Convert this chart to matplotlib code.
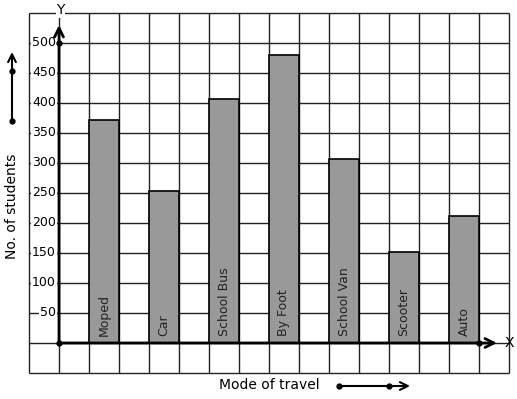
#!/usr/bin/env python3

import matplotlib
matplotlib.use("Agg")
import matplotlib.pyplot as plt

# data
modes = ["Moped", "Car", "School Bus", "By Foot", "School Van", "Scooter", "Auto"]
students = [372, 254, 406, 480, 306, 152, 212]
y_ticks = [50, 100, 150, 200, 250, 300, 350, 400, 450, 500]

W, H = 517, 399
fig = plt.figure(figsize=(W / 100, H / 100), dpi=100)
ax = fig.add_axes([29 / W, 26 / H, 480 / W, 360 / H])
ax.set_xlim(-1, 15)
ax.set_ylim(-50, 550)
ax.axis("off")

grid_kw = dict(color="#222222", lw=1.0, zorder=1, clip_on=False)
ax.vlines(range(-1, 16), -50, 550, **grid_kw)
ax.hlines(range(-50, 551, 50), -1, 15, **grid_kw)

# bars: one cell wide, every other cell
xs = [1.5 + 2 * i for i in range(len(modes))]
ax.bar(xs, students, width=1.0, color="#999999", edgecolor="black", lw=1.2, zorder=2)
for x, m in zip(xs, modes):
    ax.text(x, 12, m, rotation=90, ha="center", va="bottom", fontsize=9, color="#222222", zorder=3)

# y tick labels sitting on the grid lines
for v in y_ticks:
    ax.text(-0.1, v, str(v), ha="right", va="center", fontsize=9, zorder=3,
            bbox=dict(facecolor="white", edgecolor="none", pad=0.5))

# axes with arrow heads
arrow = dict(arrowstyle="->", lw=2, color="black", mutation_scale=16, shrinkA=0, shrinkB=0)
ax.annotate("", xy=(0, 530), xytext=(0, 0), arrowprops=arrow, zorder=4, annotation_clip=False)
ax.annotate("", xy=(14.6, 0), xytext=(0, 0), arrowprops=arrow, zorder=4, annotation_clip=False)
ax.plot([0, 0, 14.0], [0, 500, 0], "o", color="black", ms=3.5, zorder=5, clip_on=False)
ax.text(15.0, 0, "X", ha="center", va="center", fontsize=10)
ax.text(0.05, 555, "Y", ha="center", va="center", fontsize=10,
        bbox=dict(facecolor="white", edgecolor="none", pad=0.5))

# decorative label arrows in figure pixels
fig_arrow = dict(arrowstyle="->", lw=1.5, color="black", mutation_scale=14, shrinkA=0, shrinkB=0)
ax.annotate("", xy=(12, H - 52), xytext=(12, H - 121), xycoords="figure pixels",
            textcoords="figure pixels", arrowprops=fig_arrow)
ax.annotate("", xy=(410, H - 386), xytext=(339, H - 386), xycoords="figure pixels",
            textcoords="figure pixels", arrowprops=fig_arrow)
for px, py in [(12, H - 121), (12, H - 71), (339, H - 386), (389, H - 386)]:
    fig.add_artist(plt.Line2D([px / W], [py / H], marker="o", ms=3.5, color="black"))

fig.text(12 / W, 1 - 206 / H, "No. of students", rotation=90, ha="center", va="center", fontsize=10)
fig.text(269 / W, 1 - 385 / H, "Mode of travel", ha="center", va="center", fontsize=10)

fig.savefig("out.png", dpi=100)
